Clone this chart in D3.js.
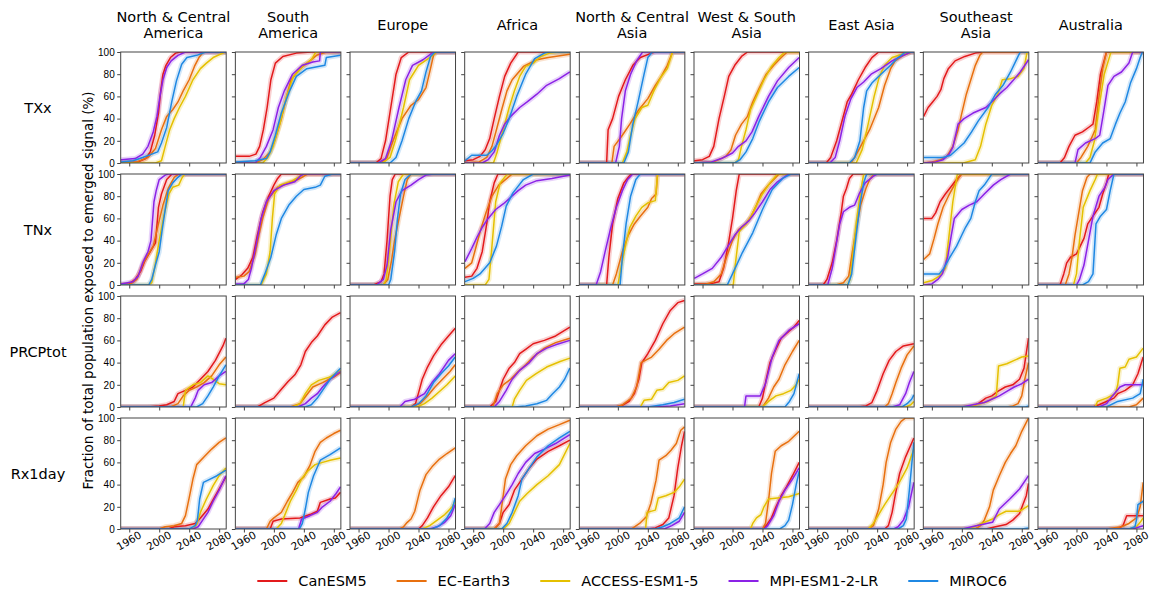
<!DOCTYPE html>
<html>
<head>
<meta charset="utf-8">
<script src="https://cdn.jsdelivr.net/npm/d3@7"></script>
<style>
  body { margin: 0; background: #fff; }
  svg { display: block; font-family: "DejaVu Sans", sans-serif; }
</style>
</head>
<body>
<svg id="chart" width="1151" height="593"></svg>
<script>
// --- Labels ---
const regions = [["North & Central", "America"], ["South", "America"], ["Europe"], ["Africa"],
  ["North & Central", "Asia"], ["West & South", "Asia"], ["East Asia"], ["Southeast", "Asia"], ["Australia"]];
const indices = ["TXx", "TNx", "PRCPtot", "Rx1day"];
const models = ["CanESM5", "EC-Earth3", "ACCESS-ESM1-5", "MPI-ESM1-2-LR", "MIROC6"];
const colors = ["#e31a1c", "#e8700f", "#e5c000", "#8b22e6", "#1f88e3"];
const yTicks = [0, 20, 40, 60, 80, 100];
const xTicks = [1960, 2000, 2040, 2080];

// --- Data: per index, per model, one [year, %, year, %, ...] list per region ---
// order of regions: NCA, SA, EU, AF, NCAs, WSA, EA, SEA, AU
const txxCanESM5 = [
  [1949,0, 1972,1, 1982,4, 1988,10, 1994,25, 1999,45, 2002,65, 2005,80, 2009,88, 2015,95, 2022,99, 2028,100, 2089,100],
  [1949,6, 1967,6, 1976,8, 1981,15, 1986,30, 1991,50, 1996,75, 2002,90, 2012,96, 2030,99, 2050,100, 2089,100],
  [1949,0, 1983,0, 1990,4, 1996,20, 2003,50, 2010,80, 2017,95, 2027,100, 2089,100],
  [1949,2, 1960,3, 1969,6, 1976,12, 1982,22, 1988,40, 1995,60, 2002,78, 2010,90, 2020,100, 2089,100],
  [1949,0, 1985,0, 1987,30, 1993,40, 2001,60, 2010,75, 2020,88, 2030,95, 2045,99, 2050,100, 2089,100],
  [1949,2, 1960,3, 1969,6, 1975,15, 1982,40, 1989,60, 1995,78, 2003,88, 2012,96, 2020,100, 2089,100],
  [1949,0, 1972,0, 1978,5, 1986,20, 1994,40, 2000,55, 2006,62, 2015,75, 2024,86, 2033,95, 2042,100, 2089,100],
  [1949,42, 1955,50, 1961,55, 1967,60, 1972,66, 1976,76, 1982,85, 1991,92, 2004,96, 2018,99, 2030,100, 2089,100],
  [1949,0, 1978,0, 1984,5, 1990,15, 1998,25, 2008,28, 2016,32, 2022,35, 2027,55, 2032,80, 2040,100, 2089,100]
];
const txxECEarth3 = [
  [1949,0, 1970,1, 1985,5, 1995,13, 2003,30, 2010,42, 2018,48, 2025,55, 2032,65, 2040,75, 2047,87, 2053,95, 2059,100, 2089,100],
  [1949,0, 1975,0, 1985,3, 1995,10, 2001,20, 2010,40, 2017,60, 2023,75, 2035,85, 2048,92, 2057,97, 2070,100, 2089,100],
  [1949,0, 1990,0, 1998,5, 2006,20, 2018,40, 2030,52, 2040,57, 2050,68, 2056,85, 2060,97, 2064,100, 2089,100],
  [1949,0, 1968,1, 1978,5, 1985,15, 1991,30, 1998,48, 2005,65, 2012,75, 2027,87, 2045,93, 2060,95, 2089,98],
  [1949,0, 1992,0, 1995,15, 2006,25, 2016,35, 2028,48, 2040,58, 2050,70, 2058,78, 2066,88, 2073,100, 2089,100],
  [1949,0, 1975,1, 1982,3, 1991,6, 1998,12, 2004,25, 2012,35, 2020,42, 2027,55, 2036,68, 2045,80, 2055,88, 2065,95, 2073,100, 2089,100],
  [1949,0, 2005,0, 2010,5, 2018,15, 2030,30, 2042,50, 2050,70, 2058,85, 2064,92, 2075,97, 2086,100, 2089,100],
  [1949,0, 1960,1, 1972,3, 1980,6, 1988,15, 1995,30, 2000,45, 2006,62, 2012,75, 2018,88, 2024,97, 2028,100, 2089,100],
  [1949,0, 2000,0, 2006,5, 2015,15, 2025,30, 2030,60, 2035,85, 2040,100, 2089,100]
];
const txxACCESS = [
  [1949,0, 1995,0, 2003,2, 2008,15, 2014,30, 2020,40, 2027,50, 2035,60, 2045,75, 2055,85, 2063,90, 2072,95, 2088,100, 2089,100],
  [1949,0, 1985,0, 1992,5, 1999,15, 2008,35, 2017,60, 2026,78, 2040,88, 2050,93, 2056,100, 2089,100],
  [1949,0, 1992,0, 2002,5, 2009,20, 2020,50, 2028,75, 2040,88, 2055,95, 2064,100, 2089,100],
  [1949,0, 1987,0, 1992,10, 2000,30, 2008,50, 2015,65, 2022,78, 2030,87, 2040,90, 2050,96, 2062,99, 2075,100, 2089,100],
  [1949,0, 2006,0, 2012,10, 2017,25, 2023,40, 2032,50, 2040,52, 2048,65, 2058,78, 2066,85, 2073,100, 2089,100],
  [1949,0, 2003,0, 2008,3, 2012,15, 2018,30, 2024,48, 2032,60, 2042,75, 2052,87, 2062,95, 2070,100, 2089,100],
  [1949,0, 2012,0, 2020,12, 2028,35, 2036,60, 2043,78, 2050,88, 2060,95, 2073,98, 2085,100, 2089,100],
  [1949,0, 2002,0, 2018,3, 2025,15, 2032,35, 2040,52, 2048,62, 2054,75, 2065,76, 2075,78, 2083,85, 2087,100, 2089,100],
  [1949,0, 2012,0, 2018,5, 2024,20, 2030,50, 2037,80, 2046,100, 2089,100]
];
const txxMPI = [
  [1949,3, 1968,4, 1978,8, 1985,15, 1992,28, 1997,42, 2001,60, 2005,75, 2010,86, 2016,92, 2025,97, 2035,100, 2089,100],
  [1949,0, 1975,0, 1982,5, 1990,15, 1999,30, 2006,50, 2014,65, 2025,80, 2038,88, 2052,91, 2061,92, 2062,100, 2089,100],
  [1949,0, 1986,0, 1996,4, 2004,20, 2014,50, 2023,75, 2032,88, 2046,93, 2060,100, 2089,100],
  [1949,0, 1972,0, 1980,3, 1988,10, 1995,25, 2002,35, 2010,42, 2022,50, 2032,55, 2045,62, 2058,70, 2075,76, 2089,82],
  [1949,0, 1997,0, 2002,15, 2005,40, 2010,65, 2017,80, 2025,92, 2033,100, 2089,100],
  [1949,0, 1972,1, 1985,4, 2000,9, 2008,15, 2018,20, 2026,28, 2035,42, 2048,60, 2060,74, 2075,86, 2089,95],
  [1949,0, 1977,0, 1984,5, 1990,20, 1997,42, 2005,58, 2013,68, 2022,73, 2032,80, 2045,85, 2060,92, 2072,96, 2085,100, 2089,100],
  [1949,0, 1965,1, 1975,3, 1983,8, 1988,14, 1995,35, 2003,40, 2015,45, 2032,50, 2040,55, 2050,62, 2060,68, 2068,74, 2078,82, 2089,93],
  [1949,0, 1998,0, 2002,12, 2012,18, 2025,22, 2031,25, 2036,45, 2042,70, 2050,78, 2060,82, 2070,90, 2075,100, 2089,100]
];
const txxMIROC6 = [
  [1949,1, 1965,2, 1978,5, 1990,8, 1998,10, 2003,18, 2010,32, 2017,56, 2023,74, 2030,89, 2037,95, 2050,97, 2062,100, 2089,100],
  [1949,1, 1975,2, 1990,4, 1995,10, 2002,25, 2010,45, 2021,65, 2030,78, 2044,85, 2068,88, 2070,95, 2089,97],
  [1949,0, 2002,0, 2010,5, 2018,20, 2027,40, 2036,55, 2044,65, 2050,82, 2056,96, 2062,100, 2089,100],
  [1949,2, 1958,7, 1978,7, 1985,11, 1991,16, 2000,27, 2008,40, 2018,60, 2030,80, 2042,94, 2055,99, 2060,100, 2089,100],
  [1949,0, 2008,0, 2014,10, 2020,35, 2027,55, 2035,80, 2040,95, 2046,100, 2089,100],
  [1949,0, 2003,0, 2010,3, 2018,10, 2027,22, 2036,38, 2048,55, 2060,68, 2075,78, 2089,86],
  [1949,0, 2003,0, 2010,5, 2017,20, 2022,50, 2026,65, 2033,72, 2045,80, 2058,88, 2068,95, 2078,100, 2089,100],
  [1949,5, 1975,5, 1985,7, 1993,12, 2003,18, 2013,28, 2022,38, 2035,50, 2045,62, 2055,70, 2065,82, 2075,96, 2078,100, 2089,100],
  [1949,0, 2018,0, 2025,10, 2035,18, 2045,22, 2052,35, 2058,45, 2065,55, 2072,72, 2080,85, 2085,95, 2088,100, 2089,100]
];

const tnxCanESM5 = [
  [1949,0, 1960,1, 1968,5, 1975,12, 1981,22, 1988,30, 1995,38, 1999,70, 2003,82, 2010,95, 2017,100, 2089,100],
  [1949,5, 1957,9, 1965,15, 1972,25, 1978,45, 1985,65, 1993,80, 2000,90, 2005,96, 2010,100, 2089,100],
  [1949,0, 1980,0, 1990,3, 1994,10, 1998,40, 2002,80, 2005,95, 2009,100, 2089,100],
  [1949,7, 1958,8, 1965,15, 1972,30, 1978,55, 1982,75, 1988,92, 1993,100, 2089,100],
  [1949,0, 1985,0, 1988,25, 1993,55, 2000,78, 2008,92, 2015,98, 2018,100, 2089,100],
  [1949,1, 1970,1, 1982,3, 1988,15, 1994,35, 2000,60, 2005,85, 2009,100, 2089,100],
  [1949,0, 1968,0, 1973,5, 1980,20, 1986,40, 1992,65, 1995,80, 1999,87, 2003,96, 2008,100, 2089,100],
  [1949,60, 1960,60, 1965,65, 1971,75, 1978,82, 1985,88, 1993,95, 2000,100, 2089,100],
  [1949,0, 1978,0, 1983,10, 1987,20, 1992,25, 2000,28, 2005,35, 2010,42, 2015,55, 2022,62, 2030,70, 2035,82, 2040,92, 2043,100, 2089,100]
];
const tnxECEarth3 = [
  [1949,0, 1962,1, 1970,5, 1979,20, 1985,27, 1992,35, 1999,55, 2005,72, 2012,87, 2020,97, 2026,100, 2089,100],
  [1949,7, 1960,8, 1967,12, 1975,28, 1980,45, 1985,60, 1993,78, 2005,88, 2020,92, 2032,95, 2040,98, 2045,100, 2089,100],
  [1949,0, 1993,0, 1999,5, 2004,22, 2008,40, 2014,60, 2020,80, 2025,95, 2030,100, 2089,100],
  [1949,15, 1958,20, 1962,30, 1970,50, 1977,65, 1985,80, 1994,90, 2003,95, 2012,100, 2089,100],
  [1949,0, 1993,0, 1998,10, 2006,30, 2014,45, 2022,55, 2030,62, 2040,70, 2045,78, 2051,82, 2053,100, 2089,100],
  [1949,0, 1965,1, 1975,3, 1985,10, 1992,25, 2000,40, 2008,50, 2018,55, 2025,62, 2032,72, 2038,82, 2048,90, 2058,97, 2062,100, 2089,100],
  [1949,0, 1985,0, 1995,2, 2002,8, 2007,30, 2012,50, 2018,72, 2025,87, 2030,95, 2036,100, 2089,100],
  [1949,23, 1957,28, 1963,42, 1968,55, 1975,70, 1982,80, 1990,90, 1999,100, 2089,100],
  [1949,0, 1985,0, 1990,10, 1994,25, 1998,45, 2003,65, 2008,85, 2014,97, 2018,100, 2089,100]
];
const tnxACCESS = [
  [1949,0, 1985,0, 1990,2, 1995,20, 2000,40, 2006,62, 2013,82, 2018,88, 2026,90, 2030,96, 2034,100, 2089,100],
  [1949,0, 1983,0, 1990,10, 1995,30, 1998,60, 2001,82, 2008,90, 2025,94, 2035,98, 2040,100, 2089,100],
  [1949,0, 1993,0, 1997,5, 2002,35, 2007,72, 2013,93, 2020,100, 2089,100],
  [1949,0, 1976,0, 1981,5, 1985,35, 1990,75, 1996,92, 2003,98, 2006,100, 2089,100],
  [1949,0, 2000,0, 2004,15, 2010,35, 2016,52, 2024,62, 2032,70, 2040,74, 2050,76, 2053,100, 2089,100],
  [1949,0, 2001,0, 2004,20, 2009,48, 2018,55, 2025,62, 2032,72, 2040,82, 2050,92, 2060,100, 2089,100],
  [1949,0, 2000,0, 2004,5, 2008,30, 2012,55, 2017,80, 2022,100, 2089,100],
  [1949,2, 1960,4, 1970,8, 1978,15, 1983,45, 1988,75, 1994,100, 2089,100],
  [1949,0, 1996,0, 2000,10, 2004,40, 2009,70, 2018,85, 2025,95, 2028,100, 2089,100]
];
const tnxMPI = [
  [1949,1, 1965,3, 1972,8, 1978,20, 1985,30, 1989,40, 1993,75, 1996,85, 2000,95, 2008,99, 2012,100, 2089,100],
  [1949,1, 1960,1, 1966,5, 1970,15, 1976,35, 1983,60, 1990,75, 2000,85, 2013,90, 2028,93, 2035,98, 2040,100, 2089,100],
  [1949,0, 1984,0, 1993,5, 1998,18, 2003,50, 2010,75, 2018,85, 2030,90, 2040,95, 2050,99, 2060,100, 2089,100],
  [1949,21, 1958,33, 1965,43, 1972,52, 1980,60, 1990,68, 2000,73, 2010,79, 2020,85, 2030,90, 2045,94, 2065,96, 2089,99],
  [1949,0, 1971,0, 1977,12, 1983,30, 1990,50, 1998,70, 2006,85, 2013,95, 2020,100, 2089,100],
  [1949,6, 1960,10, 1973,15, 1985,25, 1994,35, 2003,45, 2012,52, 2022,58, 2030,65, 2040,75, 2050,86, 2060,93, 2075,100, 2089,100],
  [1949,0, 1974,0, 1980,15, 1985,35, 1990,55, 1995,66, 2003,70, 2010,72, 2016,82, 2024,92, 2035,98, 2040,100, 2089,100],
  [1949,0, 1960,1, 1968,5, 1974,10, 1981,25, 1986,45, 1990,60, 2000,68, 2010,72, 2020,75, 2030,82, 2042,90, 2052,95, 2065,100, 2089,100],
  [1949,0, 2000,0, 2004,5, 2010,18, 2016,40, 2022,62, 2030,80, 2038,88, 2042,95, 2050,100, 2089,100]
];
const tnxMIROC6 = [
  [1949,0, 1986,0, 1990,5, 1995,18, 2000,30, 2004,50, 2008,68, 2012,85, 2018,92, 2025,97, 2030,100, 2089,100],
  [1949,0, 1982,0, 1988,10, 1996,25, 2003,45, 2010,60, 2020,72, 2030,80, 2040,86, 2055,88, 2062,90, 2068,98, 2078,100, 2089,100],
  [1949,0, 2000,0, 2003,5, 2008,30, 2012,60, 2016,82, 2022,95, 2030,100, 2089,100],
  [1949,3, 1960,6, 1969,10, 1982,20, 1991,35, 1998,53, 2004,71, 2013,83, 2027,95, 2040,100, 2089,100],
  [1949,0, 2003,0, 2006,25, 2011,55, 2017,80, 2024,95, 2030,100, 2089,100],
  [1949,0, 1993,0, 2000,10, 2013,29, 2027,47, 2040,68, 2053,86, 2067,96, 2078,100, 2089,100],
  [1949,0, 2001,0, 2006,10, 2012,45, 2017,72, 2022,92, 2026,100, 2089,100],
  [1949,10, 1970,10, 1976,15, 1984,25, 1993,35, 2000,45, 2005,52, 2012,60, 2018,75, 2023,85, 2030,90, 2035,95, 2040,100, 2089,100],
  [1949,0, 2008,0, 2016,3, 2022,10, 2026,55, 2032,62, 2040,68, 2045,85, 2050,100, 2089,100]
];

const prcpCanESM5 = [
  [1949,0, 1985,0, 2000,1, 2010,2, 2020,5, 2025,12, 2035,15, 2045,18, 2055,25, 2065,32, 2075,42, 2085,55, 2089,62],
  [1949,0, 1978,0, 1988,4, 2000,8, 2010,16, 2019,23, 2028,29, 2036,38, 2042,50, 2050,58, 2058,64, 2068,74, 2078,81, 2089,85],
  [1949,0, 2030,0, 2036,3, 2041,15, 2045,25, 2052,36, 2060,46, 2070,56, 2080,64, 2089,71],
  [1949,0, 1982,0, 1990,5, 1995,15, 2000,25, 2008,35, 2015,40, 2022,48, 2030,52, 2040,57, 2055,60, 2070,64, 2089,72],
  [1949,0, 1995,0, 2005,1, 2015,5, 2022,12, 2028,25, 2032,40, 2040,48, 2050,60, 2060,75, 2070,87, 2080,94, 2089,96],
  [1949,0, 2035,0, 2040,8, 2045,25, 2050,40, 2058,52, 2065,62, 2075,68, 2082,72, 2089,78],
  [1949,0, 2015,0, 2025,1, 2033,4, 2040,15, 2048,30, 2056,42, 2065,50, 2075,55, 2089,57],
  [1949,0, 2012,0, 2022,3, 2032,8, 2040,10, 2048,14, 2058,18, 2068,20, 2077,25, 2083,35, 2089,62],
  [1949,0, 2022,0, 2030,2, 2040,5, 2050,8, 2055,12, 2065,15, 2075,20, 2082,30, 2089,45]
];
const prcpECEarth3 = [
  [1949,0, 2015,0, 2025,3, 2032,10, 2040,15, 2050,18, 2060,22, 2070,28, 2080,38, 2089,45],
  [1949,0, 2022,0, 2035,3, 2045,12, 2052,18, 2065,22, 2080,27, 2089,31],
  [1949,0, 2030,0, 2042,3, 2052,10, 2062,18, 2072,25, 2082,32, 2089,38],
  [1949,0, 1986,0, 1992,12, 2000,20, 2010,25, 2020,32, 2030,38, 2040,45, 2055,53, 2070,58, 2089,62],
  [1949,0, 1998,0, 2006,2, 2018,8, 2025,18, 2031,40, 2045,45, 2055,52, 2065,60, 2075,66, 2089,72],
  [1949,0, 2040,0, 2048,8, 2055,18, 2062,25, 2070,38, 2080,50, 2089,60],
  [1949,0, 2050,0, 2055,3, 2060,12, 2065,22, 2072,35, 2080,47, 2089,55],
  [1949,0, 2060,0, 2068,1, 2075,3, 2080,10, 2084,25, 2089,40],
  [1949,0, 2070,0, 2080,2, 2089,8]
];
const prcpACCESS = [
  [1949,0, 2032,0, 2035,15, 2045,20, 2055,22, 2065,28, 2072,25, 2080,21, 2089,20],
  [1949,0, 2025,0, 2035,3, 2042,12, 2050,20, 2060,24, 2075,27, 2089,33],
  [1949,0, 2038,0, 2048,3, 2058,8, 2068,14, 2078,20, 2089,28],
  [1949,0, 2012,0, 2015,7, 2022,15, 2031,24, 2044,30, 2058,36, 2076,41, 2089,44],
  [1949,0, 2030,0, 2035,6, 2045,7, 2052,15, 2060,16, 2068,22, 2080,24, 2089,28],
  [1949,0, 2040,0, 2048,5, 2058,10, 2068,12, 2078,15, 2085,20, 2089,25],
  [1949,0, 2078,0, 2085,2, 2089,5],
  [1949,0, 2000,0, 2020,2, 2035,5, 2046,10, 2049,37, 2060,39, 2070,42, 2080,45, 2089,46],
  [1949,0, 2025,0, 2028,5, 2040,8, 2052,12, 2055,20, 2058,35, 2065,36, 2070,43, 2080,45, 2089,53]
];
const prcpMPI = [
  [1949,0, 2042,0, 2048,8, 2052,15, 2060,20, 2070,22, 2080,28, 2089,32],
  [1949,0, 2032,0, 2042,3, 2050,8, 2058,12, 2065,18, 2075,25, 2089,32],
  [1949,0, 2015,0, 2022,5, 2035,7, 2048,12, 2058,22, 2068,30, 2080,42, 2089,48],
  [1949,0, 1988,0, 1995,5, 2004,15, 2012,25, 2022,33, 2035,40, 2045,48, 2058,53, 2070,56, 2089,60],
  [1949,0, 2050,0, 2070,1, 2089,3],
  [1949,0, 2016,0, 2018,10, 2037,10, 2044,21, 2053,45, 2062,60, 2075,69, 2089,75],
  [1949,0, 2060,0, 2070,2, 2078,12, 2083,22, 2089,32],
  [1949,0, 2000,0, 2015,2, 2030,4, 2040,7, 2050,10, 2060,14, 2070,18, 2080,21, 2089,25],
  [1949,0, 2030,0, 2040,3, 2048,10, 2058,18, 2065,20, 2089,20]
];
const prcpMIROC6 = [
  [1949,0, 2050,0, 2058,3, 2065,10, 2072,18, 2080,28, 2089,38],
  [1949,0, 2042,0, 2050,2, 2058,8, 2065,15, 2075,25, 2089,35],
  [1949,0, 2030,0, 2040,3, 2050,10, 2060,22, 2070,30, 2080,37, 2089,45],
  [1949,0, 2015,0, 2030,1, 2045,3, 2058,6, 2066,12, 2075,18, 2082,25, 2089,35],
  [1949,0, 2040,0, 2060,2, 2075,4, 2089,7],
  [1949,0, 2070,0, 2076,5, 2082,12, 2089,30],
  [1949,0, 2073,0, 2080,3, 2086,7, 2089,11],
  [1949,0, 2085,0, 2089,1],
  [1949,0, 2040,0, 2055,5, 2075,8, 2085,12, 2089,25]
];

const rx1CanESM5 = [
  [1949,0, 2012,0, 2020,2, 2035,3, 2048,5, 2055,10, 2065,18, 2075,30, 2089,47],
  [1949,0, 1995,0, 1999,7, 2010,9, 2035,10, 2048,13, 2058,16, 2062,24, 2075,27, 2082,28, 2089,33],
  [1949,0, 2040,0, 2045,3, 2052,10, 2060,20, 2070,30, 2080,38, 2089,48],
  [1949,0, 1988,0, 1995,5, 2000,15, 2008,22, 2015,35, 2025,45, 2035,55, 2045,63, 2060,70, 2075,75, 2089,80],
  [1949,0, 2040,0, 2050,1, 2060,4, 2068,10, 2075,30, 2080,55, 2085,75, 2089,88],
  [1949,0, 2040,0, 2045,3, 2052,10, 2058,20, 2065,30, 2072,38, 2080,48, 2089,60],
  [1949,0, 2050,0, 2055,3, 2060,15, 2064,30, 2070,50, 2078,65, 2089,82],
  [1949,0, 2032,0, 2045,2, 2059,4, 2068,8, 2077,14, 2086,30, 2089,41],
  [1949,0, 2055,0, 2062,3, 2067,12, 2089,12]
];
const rx1ECEarth3 = [
  [1949,0, 2000,0, 2008,2, 2020,3, 2030,5, 2035,12, 2040,28, 2045,45, 2050,58, 2060,65, 2070,72, 2080,78, 2089,82],
  [1949,0, 1990,0, 1995,7, 2000,10, 2010,15, 2018,25, 2025,33, 2032,42, 2040,47, 2048,57, 2055,70, 2062,78, 2070,82, 2080,86, 2089,89],
  [1949,0, 2015,0, 2020,2, 2025,6, 2030,9, 2035,16, 2042,35, 2050,49, 2058,56, 2068,63, 2078,68, 2089,73],
  [1949,0, 1988,0, 1995,5, 1999,25, 2003,45, 2010,58, 2018,66, 2030,75, 2045,84, 2060,90, 2075,94, 2089,98],
  [1949,0, 2018,0, 2029,5, 2038,11, 2044,23, 2051,44, 2055,62, 2064,66, 2071,71, 2078,77, 2084,89, 2089,92],
  [1949,0, 2040,0, 2044,5, 2048,25, 2052,50, 2057,70, 2065,75, 2075,79, 2089,88],
  [1949,0, 2028,0, 2035,3, 2042,18, 2048,40, 2052,60, 2058,78, 2065,90, 2072,97, 2078,100, 2089,100],
  [1949,0, 2018,0, 2025,3, 2030,8, 2037,20, 2042,35, 2050,48, 2058,60, 2065,68, 2072,75, 2080,88, 2089,100],
  [1949,0, 2040,0, 2060,2, 2070,5, 2080,10, 2085,20, 2089,42]
];
const rx1ACCESS = [
  [1949,0, 2045,0, 2050,4, 2055,15, 2063,27, 2072,39, 2080,48, 2089,55],
  [1949,0, 2003,0, 2010,5, 2016,15, 2022,25, 2030,35, 2037,45, 2045,52, 2055,58, 2065,60, 2075,62, 2089,64],
  [1949,0, 2045,0, 2055,3, 2065,8, 2075,13, 2085,20, 2089,25],
  [1949,0, 2000,0, 2008,5, 2015,15, 2022,25, 2032,32, 2045,40, 2060,48, 2075,58, 2089,77],
  [1949,0, 2037,0, 2039,15, 2050,17, 2054,28, 2064,30, 2075,33, 2082,38, 2089,45],
  [1949,0, 2024,0, 2027,5, 2032,10, 2038,13, 2042,20, 2048,27, 2060,28, 2075,29, 2089,32],
  [1949,0, 2028,0, 2035,5, 2042,13, 2050,22, 2058,30, 2065,37, 2072,45, 2080,55, 2089,72],
  [1949,0, 2010,0, 2023,4, 2041,9, 2050,13, 2059,16, 2077,16, 2089,21],
  [1949,0, 2070,0, 2080,2, 2085,6, 2089,10]
];
const rx1MPI = [
  [1949,0, 2045,0, 2052,2, 2058,8, 2065,15, 2072,25, 2080,35, 2089,48],
  [1949,0, 2033,0, 2037,9, 2048,12, 2058,15, 2065,20, 2075,25, 2083,32, 2089,38],
  [1949,0, 2055,0, 2065,2, 2075,6, 2083,12, 2089,22],
  [1949,0, 1975,0, 1982,5, 1988,15, 1995,22, 2003,30, 2012,40, 2020,50, 2030,60, 2042,68, 2055,72, 2070,77, 2089,85],
  [1949,0, 2062,0, 2072,3, 2082,7, 2089,15],
  [1949,0, 2042,0, 2047,3, 2055,12, 2062,25, 2070,35, 2080,45, 2089,55],
  [1949,0, 2062,0, 2068,2, 2075,8, 2082,20, 2089,42],
  [1949,0, 2001,0, 2019,3, 2041,6, 2050,18, 2064,27, 2077,36, 2089,48],
  [1949,0, 2075,0, 2089,3]
];
const rx1MIROC6 = [
  [1949,0, 2040,0, 2048,3, 2051,8, 2054,27, 2059,42, 2068,45, 2077,48, 2089,53],
  [1949,0, 2034,0, 2038,5, 2042,18, 2046,33, 2053,48, 2062,62, 2075,67, 2089,73],
  [1949,0, 2058,0, 2068,3, 2078,10, 2085,18, 2089,28],
  [1949,0, 1998,0, 2005,5, 2012,15, 2020,30, 2025,45, 2035,55, 2045,65, 2060,75, 2075,82, 2089,88],
  [1949,0, 2050,0, 2060,2, 2070,5, 2082,10, 2089,20],
  [1949,0, 2063,0, 2070,3, 2075,8, 2080,22, 2085,40, 2089,52],
  [1949,0, 2068,0, 2075,3, 2079,9, 2083,35, 2086,57, 2089,78],
  [1949,0, 2080,0, 2089,1],
  [1949,0, 2070,0, 2078,2, 2080,8, 2082,22, 2089,25]
];

// table built from the arrays above: rows = indices, entries = models
const table = [
  [txxCanESM5, txxECEarth3, txxACCESS, txxMPI, txxMIROC6],
  [tnxCanESM5, tnxECEarth3, tnxACCESS, tnxMPI, tnxMIROC6],
  [prcpCanESM5, prcpECEarth3, prcpACCESS, prcpMPI, prcpMIROC6],
  [rx1CanESM5, rx1ECEarth3, rx1ACCESS, rx1MPI, rx1MIROC6]
];

const toPairs = flat => d3.range(0, flat.length, 2).map(i => [flat[i], flat[i + 1]]);

// --- Layout ---
const svg = d3.select("#chart");
const PL = 120.7, PDX = 114.66, PW = 105.5;
const PT = 52, PDY = 122, PH = 111;
const axisColor = "#444";

const x = d3.scaleLinear().domain([1948.6, 2089.4]).range([0, PW]);
const y = d3.scaleLinear().domain([0, 100]).range([PH, 0]);
const line = d3.line().x(d => x(d[0])).y(d => y(d[1]));

const defs = svg.append("defs");
defs.append("clipPath").attr("id", "panel-clip")
  .append("rect").attr("width", PW).attr("height", PH);

table.forEach((rowData, r) => {
  regions.forEach((reg, c) => {
    const g = svg.append("g")
      .attr("transform", `translate(${PL + c * PDX},${PT + r * PDY})`);

    const plot = g.append("g").attr("clip-path", "url(#panel-clip)");
    // light halo standing in for the ensemble spread
    rowData.forEach((modelData, m) => {
      plot.append("path")
        .attr("d", line(toPairs(modelData[c])))
        .attr("fill", "none")
        .attr("stroke", colors[m])
        .attr("stroke-opacity", 0.2)
        .attr("stroke-width", 5)
        .attr("stroke-linejoin", "round");
    });
    rowData.forEach((modelData, m) => {
      plot.append("path")
        .attr("d", line(toPairs(modelData[c])))
        .attr("fill", "none")
        .attr("stroke", colors[m])
        .attr("stroke-width", 1.5)
        .attr("stroke-linejoin", "round");
    });

    // axes
    const yAxis = d3.axisLeft(y).tickValues(yTicks).tickSize(3.5).tickPadding(2.5)
      .tickFormat(c === 0 ? d3.format("d") : "");
    const ya = g.append("g").call(yAxis);
    const xAxis = d3.axisBottom(x).tickValues(xTicks).tickSize(3.5).tickFormat("");
    const xa = g.append("g").attr("transform", `translate(0,${PH})`).call(xAxis);
    [ya, xa].forEach(a => {
      a.select(".domain").remove();
      a.selectAll("line").attr("stroke", axisColor);
      a.selectAll("text").attr("fill", "#000").style("font-size", "10px");
    });

    if (r === table.length - 1) {
      xTicks.forEach(t => {
        g.append("text")
          .attr("transform", `translate(${x(t) - 0.5},${PH + 11.5}) rotate(-30)`)
          .attr("text-anchor", "middle")
          .attr("dominant-baseline", "central")
          .style("font-size", "10.5px")
          .text(t);
      });
    }

    g.append("rect")
      .attr("width", PW).attr("height", PH)
      .attr("fill", "none").attr("stroke", axisColor).attr("stroke-width", 1);

    // column titles
    if (r === 0) {
      const cx = PW / 2;
      const baselines = reg.length === 2 ? [21.7, 37.7] : [30];
      reg.forEach((txt, k) => {
        svg.append("text")
          .attr("x", PL + c * PDX + cx)
          .attr("y", baselines[k])
          .attr("text-anchor", "middle")
          .style("font-size", "14.5px")
          .text(txt);
      });
    }
  });

  // row labels
  svg.append("text")
    .attr("x", 38)
    .attr("y", PT + r * PDY + PH / 2)
    .attr("text-anchor", "middle")
    .attr("dominant-baseline", "central")
    .style("font-size", "14.5px")
    .text(indices[r]);
});

// shared y-axis label
svg.append("text")
  .attr("transform", `translate(88,${PT + (3 * PDY + PH) / 2}) rotate(-90)`)
  .attr("text-anchor", "middle")
  .attr("dominant-baseline", "central")
  .style("font-size", "13.5px")
  .text("Fraction of total population exposed to emerged signal (%)");

// --- Legend ---
const legend = svg.append("g").attr("transform", "translate(0,581)");
let lx = 0;
models.forEach((name, i) => {
  const item = legend.append("g").attr("transform", `translate(${lx},0)`);
  item.append("line").attr("x1", 0).attr("x2", 30).attr("y1", 0).attr("y2", 0)
    .attr("stroke", colors[i]).attr("stroke-width", 2);
  const t = item.append("text").attr("x", 41).attr("dominant-baseline", "central")
    .style("font-size", "14.5px").text(name);
  lx += 41 + t.node().getComputedTextLength() + 30;
});
const legendWidth = lx - 30;
const panelsCenter = PL + (8 * PDX + PW) / 2;
legend.attr("transform", `translate(${panelsCenter - legendWidth / 2},581)`);
</script>
</body>
</html>
